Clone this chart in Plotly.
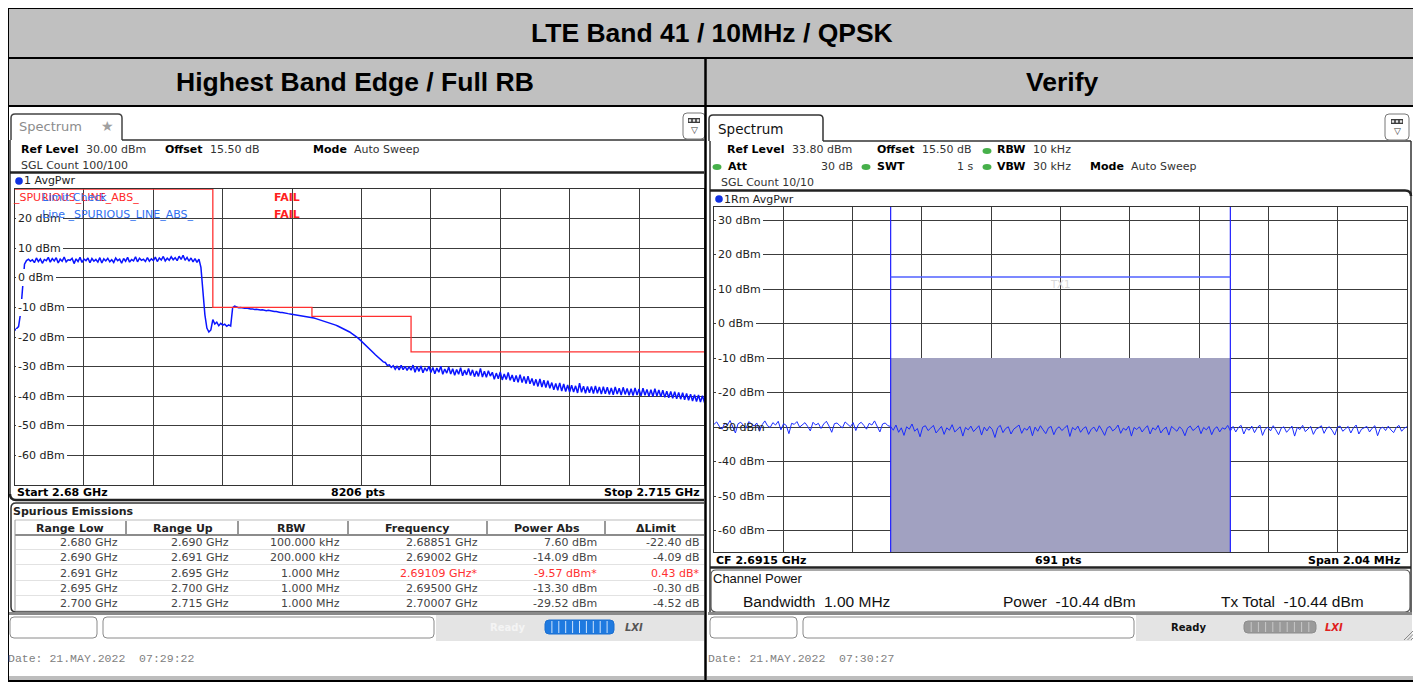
import numpy as np
import plotly.graph_objects as go

# The page body has an 8px margin, so the figure is drawn 8px smaller and
# every layout coordinate below is given in final screen pixels.
OFF = 8
W, H = 1421 - OFF, 683 - OFF

# ------------------------------------------------------------------ data
title_main = "LTE Band 41 / 10MHz / QPSK"
title_left = "Highest Band Edge / Full RB"
title_right = "Verify"

# left sweep: 2.680 .. 2.715 GHz, read every 0.1 MHz (dBm)
left_start_ghz = 2.680
left_stop_ghz = 2.715
left_rise = [-17.8, -17.2, -16.5, -12.0, -2.0, 4.6, 5.8, 6.3, 5.6, 6.1]
left_flat = [5.1, 6.7, 5.5, 6.4, 4.9, 6.2, 5.8, 6.9, 5.3, 6.5,
             5.7, 6.8, 5.0, 6.3, 5.6, 7.0, 5.4, 6.1, 5.9, 6.6,
             4.8, 6.4, 5.5, 6.9, 5.2, 6.3, 5.8, 6.7, 5.1, 6.5,
             5.6, 6.2, 5.3, 6.8, 5.0, 6.4, 5.7, 6.6, 5.4, 6.1,
             5.2, 6.7, 5.8, 6.3, 4.9, 6.5, 5.6, 6.9, 5.3, 6.2,
             5.7, 7.1, 5.4, 6.6, 5.9, 6.3, 5.5, 6.8, 5.6, 6.4,
             5.8, 7.0, 5.5, 6.7, 6.0, 7.2, 5.7, 6.6, 5.9, 7.1,
             6.1, 6.8, 5.8, 7.3, 6.2, 7.6, 5.9, 6.9, 5.6, 6.7,
             5.4, 6.5, 5.2, 6.3]
left_drop = [3.5, -6.0, -12.5, -17.0, -18.3, -17.6, -14.1, -15.6, -15.0, -16.2,
             -15.4, -16.0, -15.7, -16.4, -15.9, -16.3]
left_mid = [-10.1, -9.6, -9.9, -10.1, -10.0, -10.2, -10.3, -10.2, -10.4, -10.5,
            -10.5, -10.7, -10.6, -10.8, -10.9, -10.8, -11.0, -11.1, -11.0, -11.2,
            -11.3, -11.4, -11.4, -11.6, -11.7, -11.7, -11.9, -12.0, -12.1, -12.2,
            -12.3, -12.4, -12.5, -12.6, -12.7, -12.8, -13.0, -13.1, -13.2, -13.2,
            -13.3]
left_roll = [-13.6, -13.8, -14.0, -14.2, -14.4, -14.6, -14.8, -15.0, -15.3, -15.5,
             -15.8, -16.0, -16.3, -16.6, -16.9, -17.2, -17.6, -17.9, -18.3, -18.8,
             -19.2, -19.7, -20.2, -20.8, -21.4, -22.0, -22.6, -23.3, -24.0, -24.6,
             -25.3, -26.0, -26.6, -27.2, -27.5, -28.4, -28.6, -29.6, -29.4, -30.3,
             -29.7, -30.9, -29.8, -31.1, -29.6, -31.0, -29.9, -31.3, -30.0, -31.2]
left_tail = [-29.5, -31.9, -30.0, -31.6, -29.8, -32.1, -30.4, -31.5, -29.9, -32.0,
             -30.3, -32.4, -30.5, -31.9, -29.9, -32.6, -30.8, -32.2, -30.1, -32.5,
             -30.7, -32.9, -31.0, -32.6, -30.4, -33.1, -31.2, -32.8, -30.6, -33.0,
             -31.1, -33.4, -31.5, -33.3, -30.6, -33.5, -31.6, -33.6, -31.4, -33.2,
             -31.9, -34.3, -32.2, -34.1, -31.8, -34.5, -32.5, -34.4, -32.0, -34.6,
             -32.8, -35.1, -33.0, -35.3, -32.7, -35.4, -33.3, -35.7, -33.2, -35.8,
             -34.0, -36.4, -34.3, -36.7, -34.2, -36.9, -34.6, -37.1, -34.8, -37.3,
             -35.4, -37.8, -35.7, -38.0, -35.5, -38.3, -35.9, -38.4, -36.2, -38.6,
             -36.3, -38.6, -36.5, -38.9, -35.6, -38.7, -36.6, -39.0, -36.7, -38.8,
             -36.7, -39.1, -36.5, -39.0, -36.9, -39.3, -36.8, -39.2, -37.0, -39.4,
             -37.2, -39.5, -36.9, -39.3, -37.3, -39.6, -37.0, -39.4, -37.4, -39.7,
             -37.5, -39.8, -37.2, -39.6, -37.6, -39.9, -37.3, -39.7, -37.7, -40.0,
             -37.8, -40.1, -37.5, -39.9, -37.9, -40.2, -38.0, -40.4, -38.3, -40.5,
             -38.4, -40.7, -38.5, -40.9, -38.7, -41.0, -38.8, -41.2, -39.1, -41.4,
             -39.3, -41.6, -39.5, -41.8, -39.6, -42.0, -39.8, -42.1, -40.0, -42.2]
left_trace_dbm = left_rise + left_flat + left_drop + left_mid + left_roll + left_tail

limit_freq_ghz = [2.680, 2.690, 2.695, 2.700, 2.715]
limit_dbm = [30, -10, -13, -25, -25]

left_ref_level = 30.0
right_ref_level = 33.8
left_ytick_vals = [20, 10, 0, -10, -20, -30, -40, -50, -60]
right_ytick_vals = [30, 20, 10, 0, -10, -20, -30, -40, -50, -60]

spur_headers = ["Range Low", "Range Up", "RBW", "Frequency", "Power Abs", "\u0394Limit"]
spur_range_low = ["2.680 GHz", "2.690 GHz", "2.691 GHz", "2.695 GHz", "2.700 GHz"]
spur_range_up = ["2.690 GHz", "2.691 GHz", "2.695 GHz", "2.700 GHz", "2.715 GHz"]
spur_rbw = ["100.000 kHz", "200.000 kHz", "1.000 MHz", "1.000 MHz", "1.000 MHz"]
spur_freq = ["2.68851 GHz", "2.69002 GHz", "2.69109 GHz*", "2.69500 GHz", "2.70007 GHz"]
spur_power = ["7.60 dBm", "-14.09 dBm", "-9.57 dBm*", "-13.30 dBm", "-29.52 dBm"]
spur_delta = ["-22.40 dB", "-4.09 dB", "0.43 dB*", "-0.30 dB", "-4.52 dB"]
spur_fail = [False, False, True, False, False]

# right sweep: CF 2.6915 GHz, span 2.04 MHz (dBm)
right_cf_ghz = 2.6915
right_span_ghz = 0.00204
right_trace_left = [
    -29.2, -28.5, -29.8, -30.6, -28.9, -29.4, -28.1, -29.9, -31.7, -29.0, -28.6,
    -29.5, -30.3, -28.4, -29.1, -29.7, -28.8, -31.2, -29.3, -28.2, -29.6, -30.1,
    -28.7, -29.4, -28.3, -30.8, -29.0, -29.5, -31.9, -28.9, -29.2, -28.4, -30.0,
    -29.3, -28.7, -29.8, -31.1, -28.6, -29.4, -28.9, -30.4, -29.1, -28.3, -29.7,
    -31.5, -29.0, -28.8, -29.6, -30.2, -28.5, -29.3, -29.9, -28.7, -31.0, -29.2,
    -28.6, -29.5, -30.6, -28.9, -29.4, -28.2, -29.8, -31.4, -29.1, -28.8, -29.6]
right_trace_mid = [
    -29.8, -30.9, -29.4, -31.5, -30.2, -32.4, -29.9, -30.6, -29.1, -31.2, -30.4, -32.8, -30.0, -29.6, -31.0, -30.3,
    -29.5, -31.7, -30.6, -29.8, -32.1, -30.2, -30.9, -29.3, -31.4, -30.5, -29.9, -32.6, -30.1, -30.8, -29.7, -31.3,
    -30.4, -29.6, -32.3, -30.0, -31.1, -29.8, -30.7, -33.0, -30.2, -29.5, -31.6, -30.4, -29.9, -32.0, -30.6, -30.1,
    -29.4, -31.8, -30.3, -30.9, -29.7, -32.5, -30.0, -31.2, -29.6, -30.8, -31.9, -30.2, -29.8, -32.2, -30.5, -29.9,
    -31.0, -30.3, -29.5, -32.7, -30.1, -30.8, -29.7, -31.5, -30.4, -29.9, -32.1, -30.6, -30.0, -31.3, -29.6, -30.9,
    -32.4, -30.2, -29.8, -31.1, -30.5, -29.4, -31.8, -30.3, -30.9, -29.7, -32.6, -30.1, -30.7, -29.9, -31.4, -30.4,
    -29.6, -32.0, -30.2, -30.8, -29.5, -31.7, -30.6, -30.0, -32.3, -29.8, -30.5, -31.2, -29.9, -30.7, -32.5, -30.3,
    -29.7, -31.0, -30.4, -29.6, -31.9, -30.1, -30.8, -29.8, -32.2, -30.5, -29.9, -31.4, -30.2, -30.6, -29.5, -31.1]
right_trace_right = [
    -29.8, -31.4, -30.1, -29.5, -32.0, -30.3, -30.9, -29.7, -31.6, -30.2, -29.4,
    -32.4, -30.6, -30.0, -31.1, -29.6, -30.8, -32.2, -30.3, -29.9, -31.5, -30.5,
    -29.7, -32.6, -30.1, -30.7, -29.5, -31.3, -30.4, -29.8, -32.1, -30.6, -30.2,
    -29.6, -31.8, -30.3, -29.9, -30.9, -32.3, -30.0, -29.7, -31.2, -30.5, -29.8,
    -31.7, -30.2, -29.4, -32.0, -30.6, -30.1, -29.8, -31.4, -30.3, -29.6, -32.5,
    -30.4, -30.0, -31.0, -29.7, -30.8, -31.6, -30.1, -29.5, -31.2, -30.3, -29.9]
right_trace_dbm = right_trace_left + right_trace_mid + right_trace_right
chan_low_ghz = 2.691
chan_high_ghz = 2.692
chan_bar_dbm = -10.0
chan_line_dbm = 13.5

right_cp = ["Bandwidth  1.00 MHz", "Power  -10.44 dBm", "Tx Total  -10.44 dBm"]

# ------------------------------------------------------------------ helpers
SANS = "DejaVu Sans"
ARIAL = "Liberation Sans"
MONO = "Liberation Mono"


def X(p):
    return (p - OFF) / W


def Y(p):
    return 1 - (p - OFF) / H


shapes = []
annos = []


def rect(x0, y0, x1, y1, fill=None, line=None, lw=1, layer="above"):
    shapes.append(dict(type="rect", xref="paper", yref="paper", layer=layer,
                       x0=X(x0), x1=X(x1), y0=Y(y1), y1=Y(y0),
                       fillcolor=fill or "rgba(0,0,0,0)",
                       line=dict(color=line or "rgba(0,0,0,0)", width=lw if line else 0)))


def seg(x0, y0, x1, y1, color="#000", lw=1, layer="above"):
    shapes.append(dict(type="line", xref="paper", yref="paper", layer=layer,
                       x0=X(x0), y0=Y(y0), x1=X(x1), y1=Y(y1),
                       line=dict(color=color, width=lw)))


def circ(cx, cy, rx, ry, fill):
    shapes.append(dict(type="circle", xref="paper", yref="paper",
                       x0=X(cx - rx), x1=X(cx + rx), y0=Y(cy + ry), y1=Y(cy - ry),
                       fillcolor=fill, line=dict(width=0)))


def path(pts, color="#000", lw=1, fill=None, close=False):
    s = ""
    for p in pts:
        if p[0] == "Q":
            s += f"Q {X(p[1])},{Y(p[2])} {X(p[3])},{Y(p[4])} "
        else:
            s += f"{p[0]} {X(p[1])},{Y(p[2])} "
    if close:
        s += "Z"
    shapes.append(dict(type="path", xref="paper", yref="paper", path=s,
                       fillcolor=fill or "rgba(0,0,0,0)",
                       line=dict(color=color, width=lw)))


def rrect(x0, y0, x1, y1, r, color="#000", lw=1, fill=None):
    path([("M", x0 + r, y0), ("L", x1 - r, y0), ("Q", x1, y0, x1, y0 + r),
          ("L", x1, y1 - r), ("Q", x1, y1, x1 - r, y1), ("L", x0 + r, y1),
          ("Q", x0, y1, x0, y1 - r), ("L", x0, y0 + r), ("Q", x0, y0, x0 + r, y0)],
         color=color, lw=lw, fill=fill, close=True)


def T(x, y, s, size=11, color="#000", anchor="left", family=SANS, bold=False, bg=None, pad=0):
    annos.append(dict(x=X(x), y=Y(y), xref="paper", yref="paper", showarrow=False,
                      text=f"<b>{s}</b>" if bold else s, xanchor=anchor, yanchor="middle",
                      font=dict(family=family, size=size, color=color),
                      bgcolor=bg, borderpad=pad, borderwidth=0))


def menu_icon(x0, y0, x1, y1):
    rrect(x0, y0, x1, y1, 4, color="#777", lw=1, fill="#ffffff")
    cx = (x0 + x1) / 2
    rect(cx - 6, y0 + 5, cx + 6, y0 + 10, fill="#3a3a3a")
    for k in (-4, 0, 4):
        rect(cx + k - 1.2, y0 + 6.3, cx + k + 1.2, y0 + 8.7, fill="#e8e8e8")
    T(cx, y0 + 17, "\u25bd", size=9, color="#333", anchor="center")


# ------------------------------------------------------------------ y tick labels (drawn first)
L_TOP, L_BOT = 189, 485
R_TOP, R_BOT = 207, 552
for v in left_ytick_vals:
    yy = L_TOP + (left_ref_level - v) / 100 * (L_BOT - L_TOP)
    T(16, yy, f"{v} dBm", color="#222", bg="#ffffff", pad=2)
for v in right_ytick_vals:
    yy = R_TOP + (right_ref_level - v) / 100 * (R_BOT - R_TOP)
    T(716, yy, f"{v} dBm", color="#222", bg=None if v == -30 else "#ffffff", pad=2)

# ------------------------------------------------------------------ table frame
rect(8, 8, 1419, 106, fill="#c0c0c0", layer="below")
rect(8, 107, 704, 680, fill="#ffffff", layer="below")
rect(707, 107, 1418, 680, fill="#ffffff", layer="below")
rect(8, 676, 704, 680, fill="#bdbdbd", layer="below")
rect(707, 676, 1418, 680, fill="#bdbdbd", layer="below")
rect(1413, 107, 1418, 680, fill="#c4c4c4", layer="below")
T(712, 33, title_main, size=26.5, bold=True, family=ARIAL, anchor="center")
T(355, 82, title_left, size=26.5, bold=True, family=ARIAL, anchor="center")
T(1062, 82, title_right, size=26.5, bold=True, family=ARIAL, anchor="center")

# ------------------------------------------------------------------ left screenshot chrome
path([("M", 11, 140), ("L", 11, 118), ("Q", 11, 114, 15, 114), ("L", 118, 114),
      ("Q", 122, 114, 122, 118), ("L", 122, 140)], color="#444", lw=1.5)
T(19, 127, "Spectrum", size=13, color="#8c8c8c")
T(107, 126, "\u2605", size=14, color="#a0a0a0", anchor="center")
seg(122, 140, 704, 140, "#333", 1.5)
seg(10, 140, 10, 496, "#333", 1.5)
menu_icon(683, 113, 705, 139)
T(21, 150, "Ref Level", bold=True)
T(86, 150, "30.00 dBm", color="#333")
T(165, 150, "Offset", bold=True)
T(210, 150, "15.50 dB", color="#333")
T(313, 150, "Mode", bold=True)
T(354, 150, "Auto Sweep", color="#333")
T(21, 165, "SGL Count 100/100", color="#333")
seg(10, 172.5, 704, 172.5, "#222", 2.5)
circ(19, 181, 3.8, 3.8, "#1030e0")
T(24, 181, "1 AvgPwr", color="#222")
T(13, 198, "_SPURIOUS_LINE_ABS_", color="#ff2a2a")
T(42, 198, "Limit Check", color="#2f6ff0")
T(42, 214, "Line _SPURIOUS_LINE_ABS_", color="#2f6ff0")
T(274, 198, "FAIL", color="#ff2020", bold=True)
T(274, 214, "FAIL", color="#ff2020", bold=True)
T(17, 492, "Start 2.68 GHz", bold=True)
T(358, 492, "8206 pts", bold=True, anchor="center")
T(700, 492, "Stop 2.715 GHz", bold=True, anchor="right")
path([("M", 704, 500), ("L", 16, 500), ("Q", 10, 500, 10, 494)], color="#222", lw=2.5)

# spurious emissions panel
path([("M", 704, 503), ("L", 16, 503), ("Q", 11, 503, 11, 508), ("L", 11, 607),
      ("Q", 11, 612, 16, 612), ("L", 704, 612)], color="#333", lw=1.5)
T(13, 511, "Spurious Emissions", bold=True, color="#222")
seg(15, 520, 704, 520, "#bbb", 1)
seg(15, 535, 704, 535, "#666", 1.5)
seg(15, 520, 15, 611, "#999", 1)
col_sep = [126, 238, 348, 487, 605]
for cx in col_sep:
    seg(cx, 521, cx, 534, "#555", 1.2)
col_ctr = [70, 183, 291, 417, 547, 656]
col_right = [118, 229, 340, 478, 597, 700]
for c, h in zip(col_ctr, spur_headers):
    T(c, 528, h, bold=True, anchor="center", color="#222")
row_y = [542, 557, 573, 588, 603]
cols = [spur_range_low, spur_range_up, spur_rbw, spur_freq, spur_power, spur_delta]
for r, yy in enumerate(row_y):
    seg(16, yy + 7.5, 704, yy + 7.5, "#e2e2e2", 1)
    for ci, col in enumerate(cols):
        clr = "#ff3030" if (spur_fail[r] and ci >= 3) else "#444"
        T(col_right[ci], yy, col[r], color=clr, anchor="right")

# bottom bar
rect(8, 612, 704, 615, fill="#8a8a8a")
rect(436, 615, 704, 641, fill="#e4e4e4", layer="below")
rrect(10, 617, 97, 638, 4, color="#8a8a8a", lw=1, fill="#ffffff")
rrect(103, 617, 434, 638, 4, color="#8a8a8a", lw=1, fill="#ffffff")
T(490, 627, "Ready", bold=True, color="#f4f4f4", size=10)
rrect(545, 620, 614, 634, 4, color="#1b6fd0", lw=1, fill="#1f7ae0")
for k in range(1, 10):
    seg(545 + k * 6.9, 621, 545 + k * 6.9, 633, "#cfe3fb", 1)
T(634, 627, "<i>LXI</i>", bold=True, color="#555", size=10, anchor="center")
T(8, 658, "Date: 21.MAY.2022  07:29:22", family=MONO, size=11.5, color="#808080")

# ------------------------------------------------------------------ right screenshot chrome
path([("M", 709, 141), ("L", 709, 119), ("Q", 709, 115, 713, 115), ("L", 819, 115),
      ("Q", 823, 115, 823, 119), ("L", 823, 141)], color="#333", lw=1.5)
T(718, 129, "Spectrum", size=13.5, color="#111")
seg(823, 141, 1411, 141, "#333", 1.5)
seg(710, 141, 710, 612, "#333", 1.5)
seg(1411, 141, 1411, 612, "#333", 1.5)
menu_icon(1385, 114, 1409, 140)
GREEN = "#46b04a"
T(727, 150, "Ref Level", bold=True)
T(792, 150, "33.80 dBm", color="#333")
T(877, 150, "Offset", bold=True)
T(922, 150, "15.50 dB", color="#333")
circ(987, 151, 4.5, 3, GREEN)
T(997, 150, "RBW", bold=True)
T(1033, 150, "10 kHz", color="#333")
circ(717, 167, 4.5, 3, GREEN)
T(728, 166, "Att", bold=True)
T(853, 166, "30 dB", color="#333", anchor="right")
circ(866, 167, 4.5, 3, GREEN)
T(877, 166, "SWT", bold=True)
T(973, 166, "1 s", color="#333", anchor="right")
circ(987, 167, 4.5, 3, GREEN)
T(997, 166, "VBW", bold=True)
T(1033, 166, "30 kHz", color="#333")
T(1090, 167, "Mode", bold=True)
T(1131, 167, "Auto Sweep", color="#333")
T(721, 182, "SGL Count 10/10", color="#333")
path([("M", 710, 190.5), ("L", 1405, 190.5), ("Q", 1411, 190.5, 1411, 196)], color="#222", lw=2.5)
circ(719, 199, 3.8, 3.8, "#1030e0")
T(724, 199, "1Rm AvgPwr", color="#222")
T(716, 560, "CF 2.6915 GHz", bold=True)
T(1058, 560, "691 pts", bold=True, anchor="center")
T(1400, 560, "Span 2.04 MHz", bold=True, anchor="right")
seg(710, 567.5, 1411, 567.5, "#222", 2.5)
rrect(711, 570, 1410, 612, 5, color="#555", lw=1.2)
T(713, 578, "Channel Power", family=ARIAL, size=13, color="#111")
T(743, 601, right_cp[0], family=ARIAL, size=15.5, color="#111")
T(1003, 601, right_cp[1], family=ARIAL, size=15.5, color="#111")
T(1221, 601, right_cp[2], family=ARIAL, size=15.5, color="#111")
T(1060, 284, "TX1", size=10, color="#d8d8d8", anchor="center")

rect(708, 612, 1412, 615, fill="#8a8a8a")
rect(1136, 615, 1412, 641, fill="#e4e4e4", layer="below")
rrect(710, 617, 797, 638, 4, color="#8a8a8a", lw=1, fill="#ffffff")
rrect(803, 617, 1134, 638, 4, color="#8a8a8a", lw=1, fill="#ffffff")
T(1188, 627, "Ready", bold=True, color="#111", size=10, anchor="center")
rrect(1244, 621, 1316, 633, 4, color="#8c8c8c", lw=1, fill="#9a9a9a")
for k in range(1, 10):
    seg(1244 + k * 7.2, 622, 1244 + k * 7.2, 632, "#c8c8c8", 1)
T(1334, 627, "<i>LXI</i>", bold=True, color="#e02020", size=10, anchor="center")
for k in range(4):
    seg(1404 + k * 3.5, 640, 1417, 627 + k * 3.5, "#888", 1)
T(708, 658, "Date: 21.MAY.2022  07:30:27", family=MONO, size=11.5, color="#808080")

# ------------------------------------------------------------------ traces
fig = go.Figure()

n_left = len(left_trace_dbm)
left_freq = np.linspace(left_start_ghz, left_stop_ghz, n_left)
fig.add_trace(go.Scatter(x=left_freq, y=left_trace_dbm, mode="lines",
                         line=dict(color="#0a14ff", width=1.5), xaxis="x", yaxis="y",
                         hoverinfo="skip"))
fig.add_trace(go.Scatter(x=limit_freq_ghz, y=limit_dbm, mode="lines",
                         line=dict(color="#ff3030", width=1.3, shape="hv"),
                         xaxis="x", yaxis="y", hoverinfo="skip"))

right_lo = right_cf_ghz - right_span_ghz / 2
right_hi = right_cf_ghz + right_span_ghz / 2
right_bottom = right_ref_level - 100
fig.add_trace(go.Scatter(x=[chan_low_ghz, chan_low_ghz, chan_high_ghz, chan_high_ghz],
                         y=[right_bottom, chan_bar_dbm, chan_bar_dbm, right_bottom],
                         fill="toself", fillcolor="#a1a1c1", mode="none",
                         xaxis="x2", yaxis="y2", hoverinfo="skip"))
right_freq = np.linspace(right_lo, right_hi, len(right_trace_dbm))
fig.add_trace(go.Scatter(x=right_freq, y=right_trace_dbm, mode="lines",
                         line=dict(color="#1a2cff", width=1.0), xaxis="x2", yaxis="y2",
                         hoverinfo="skip"))

for f in (chan_low_ghz, chan_high_ghz):
    shapes.append(dict(type="line", xref="x2", yref="y2 domain", x0=f, x1=f, y0=0, y1=1,
                       line=dict(color="#2020ff", width=1.2)))
shapes.append(dict(type="line", xref="x2", yref="y2", x0=chan_low_ghz, x1=chan_high_ghz,
                   y0=chan_line_dbm, y1=chan_line_dbm, line=dict(color="#5060ff", width=1.5)))

GRID = "#3c3c3c"
left_x0, left_x1 = 14.6, 704
left_div_px = 69.38
left_range_end = left_start_ghz + (left_stop_ghz - left_start_ghz) * (left_x1 - left_x0) / (10 * left_div_px)

ax_common = dict(showgrid=True, gridcolor=GRID, gridwidth=1.2, zeroline=False,
                 showticklabels=False, ticks="", showline=True, linecolor="#333",
                 linewidth=1, mirror=True, fixedrange=True)

fig.update_layout(
    width=W, height=H, margin=dict(l=0, r=0, t=0, b=0),
    paper_bgcolor="#ffffff", plot_bgcolor="#ffffff", showlegend=False,
    xaxis=dict(domain=[X(left_x0), X(left_x1)], range=[left_start_ghz, left_range_end],
               tick0=left_start_ghz, dtick=(left_stop_ghz - left_start_ghz) / 10, **ax_common),
    yaxis=dict(domain=[Y(L_BOT), Y(L_TOP)], range=[left_ref_level - 100, left_ref_level],
               tick0=0, dtick=10, anchor="x", **ax_common),
    xaxis2=dict(domain=[X(714), X(1407)], range=[right_lo, right_hi],
                tick0=right_lo, dtick=right_span_ghz / 10, anchor="y2", **ax_common),
    yaxis2=dict(domain=[Y(R_BOT), Y(R_TOP)], range=[right_bottom, right_ref_level],
                tick0=0, dtick=10, anchor="x2", **ax_common),
    shapes=shapes, annotations=annos,
)

# outer table lines on top
for (a, b, c, d, w) in [(8, 8, 1419, 8, 2), (8, 681, 1419, 681, 2), (8, 8, 8, 681, 2),
                        (1419, 8, 1419, 681, 2), (8, 58, 1419, 58, 2), (8, 106, 1419, 106, 2),
                        (705.5, 58, 705.5, 681, 2.5)]:
    fig.add_shape(type="line", xref="paper", yref="paper", x0=X(a), x1=X(c), y0=Y(b), y1=Y(d),
                  line=dict(color="#000", width=w))

fig.write_html("out.html")
